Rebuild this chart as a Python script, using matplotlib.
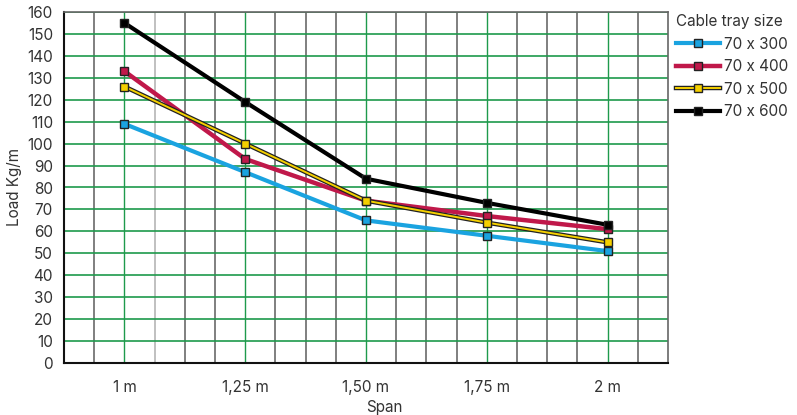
import matplotlib
matplotlib.use("Agg")
import matplotlib.pyplot as plt

# data
spans = ["1 m", "1,25 m", "1,50 m", "1,75 m", "2 m"]
load_300 = [109, 87, 65, 58, 51]
load_400 = [133, 93, 74, 67, 61]
load_500 = [126, 100, 74, 64, 55]
load_600 = [155, 119, 84, 73, 63]
labels = ["70 x 300", "70 x 400", "70 x 500", "70 x 600"]

plt.rcParams['font.family'] = ['Inter', 'DejaVu Sans']

fig = plt.figure(figsize=(7.97, 4.15), dpi=100)
ax = fig.add_axes([64 / 797, 52 / 415, 604 / 797, 351 / 415])

xpos = [2, 6, 10, 14, 18]

# grid: vertical lines every unit, green on the span positions
for v in range(1, 20):
    if v in xpos:
        ax.axvline(v, color="#1e9a4c", lw=1.0, zorder=1)
    else:
        ax.axvline(v, color="#b5b5b5" if v == 3 else "#6a6a6a", lw=1.2, zorder=1)
for h in range(10, 161, 10):
    ax.axhline(h, color="#1e9a4c", lw=1.2, zorder=1)

mk = dict(marker="s", markersize=6, markeredgecolor="#222222", markeredgewidth=1.0)
l1, = ax.plot(xpos, load_300, color="#1aa3e0", lw=3, markerfacecolor="#1aa3e0", zorder=3, **mk)
l2, = ax.plot(xpos, load_400, color="#c0184a", lw=3.2, markerfacecolor="#c0184a", zorder=4, **mk)
# yellow line with dark outline
l3a, = ax.plot(xpos, load_500, color="#222222", lw=3.2, zorder=5)
l3b, = ax.plot(xpos, load_500, color="#f5d000", lw=1.4, markerfacecolor="#f5d000", zorder=5, **mk)
l4, = ax.plot(xpos, load_600, color="#000000", lw=3, markerfacecolor="#000000", zorder=6, **mk)

ax.set_xlim(0, 20)
ax.set_ylim(0, 160)
ax.set_xticks(xpos)
ax.set_xticklabels(spans)
ax.set_yticks(range(0, 161, 10))
ax.tick_params(length=0, labelsize=11, colors="#333333", pad=8)
ax.tick_params(axis="x", pad=12)

for s in ["left", "bottom"]:
    ax.spines[s].set_color("#111111")
    ax.spines[s].set_linewidth(1.5)
for s in ["top", "right"]:
    ax.spines[s].set_color("#666666")
    ax.spines[s].set_linewidth(1.2)

ax.set_xlabel("Span", fontsize=11, color="#333333", labelpad=2)
ax.set_ylabel("Load Kg/m", fontsize=11, color="#333333", labelpad=4)
ax.xaxis.set_label_coords(0.53, -0.105)

leg = ax.legend([l1, l2, (l3a, l3b), l4], labels, title="Cable tray size",
                loc="upper left", bbox_to_anchor=(0.995, 1.025),
                frameon=False, fontsize=11, title_fontsize=11, handlelength=2.9,
                handletextpad=0.25, labelspacing=0.5, borderaxespad=0.3)
leg._legend_box.align = "left"
for t in leg.get_texts():
    t.set_color("#333333")
leg.get_title().set_color("#333333")

fig.savefig("out.png", dpi=100)
